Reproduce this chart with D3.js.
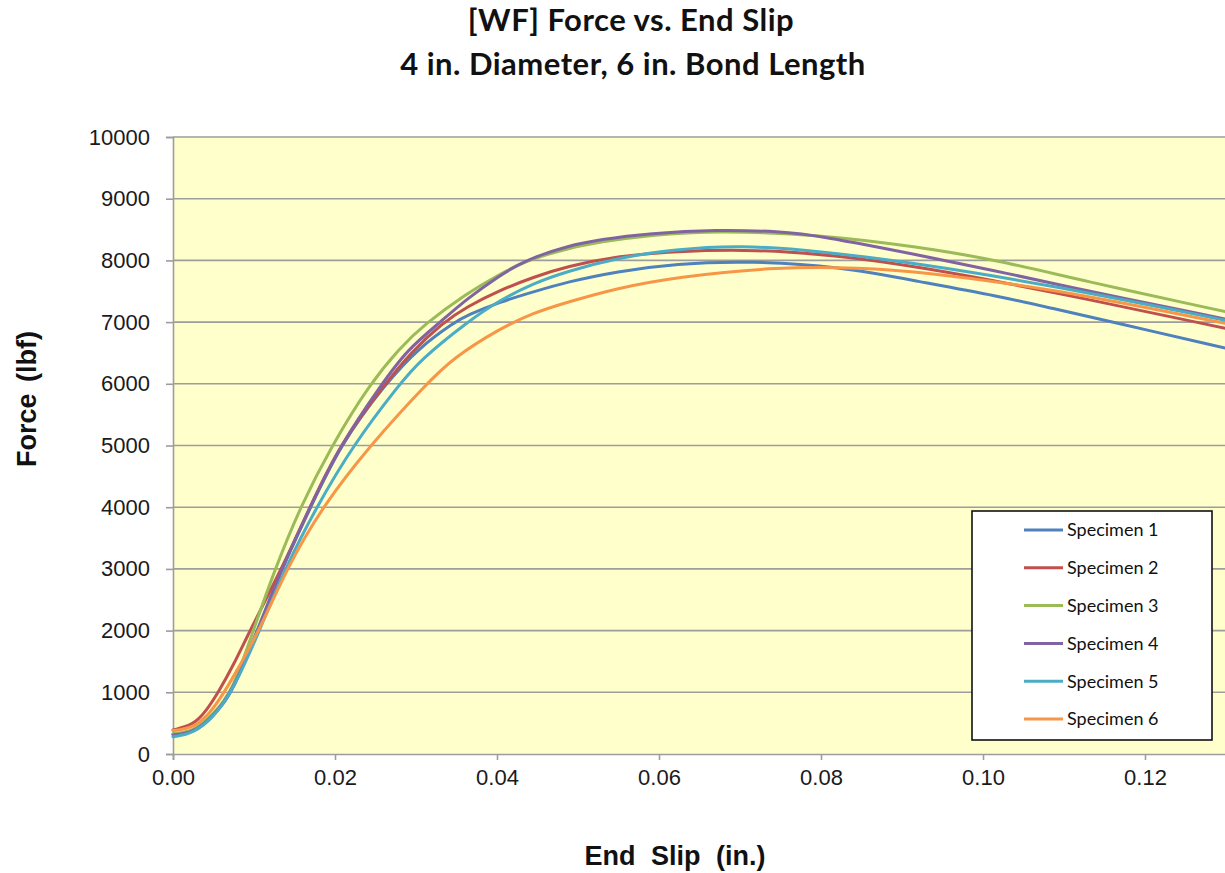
<!DOCTYPE html>
<html>
<head>
<meta charset="utf-8">
<script src="https://cdn.jsdelivr.net/npm/d3@7"></script>
<style>
  html, body { margin: 0; padding: 0; background: #ffffff; }
  svg { display: block; }
</style>
</head>
<body>
<svg id="chart" width="1225" height="873"></svg>
<script>
// Force vs. end slip readings, one [slip (in.), force (lbf)] list per specimen
const specimenNames = ["Specimen 1", "Specimen 2", "Specimen 3", "Specimen 4", "Specimen 5", "Specimen 6"];
const specimenColors = ["#4f81bd", "#c0504d", "#9bbb59", "#8064a2", "#4bacc6", "#f79646"];

const specimen1 = [[0,320],[0.002,340],[0.004,470],[0.006,780],[0.0073,1000],[0.0104,2000],[0.0134,3000],[0.017,4000],[0.0206,5000],[0.0262,6000],[0.0305,6600],[0.0348,7000],[0.0363,7110],[0.0404,7330],[0.0445,7490],[0.0486,7650],[0.0548,7820],[0.062,7950],[0.0714,7990],[0.0822,7900],[0.092,7660],[0.102,7420],[0.1083,7230],[0.116,7000],[0.1299,6580]];
const specimen2 = [[0,390],[0.0025,470],[0.004,680],[0.0056,1000],[0.0075,1450],[0.0095,2000],[0.0134,3000],[0.0169,4000],[0.0205,5000],[0.0262,6000],[0.0293,6500],[0.0334,7000],[0.0363,7250],[0.0404,7520],[0.0445,7730],[0.0486,7900],[0.0548,8070],[0.062,8150],[0.072,8180],[0.082,8080],[0.092,7900],[0.1083,7500],[0.1299,6900]];
const specimen3 = [[0,330],[0.0025,360],[0.005,650],[0.0073,1000],[0.0099,2000],[0.0126,3000],[0.0157,4000],[0.0196,5000],[0.0243,6000],[0.028,6580],[0.0309,6950],[0.0363,7470],[0.0404,7780],[0.0425,7920],[0.0445,8030],[0.0486,8190],[0.0527,8300],[0.0589,8410],[0.067,8480],[0.0798,8420],[0.092,8220],[0.102,8000],[0.112,7680],[0.1299,7170]];
const specimen4 = [[0,310],[0.0025,340],[0.005,620],[0.0073,1000],[0.0105,2000],[0.0134,3000],[0.0169,4000],[0.0206,5000],[0.0258,6000],[0.0289,6550],[0.033,7000],[0.0363,7380],[0.0404,7760],[0.0425,7920],[0.0445,8050],[0.0486,8230],[0.0527,8340],[0.0589,8440],[0.067,8500],[0.075,8470],[0.0798,8400],[0.092,8090],[0.102,7820],[0.1083,7630],[0.1299,7050]];
const specimen5 = [[0,280],[0.0025,330],[0.005,600],[0.0073,1000],[0.0107,2000],[0.0138,3000],[0.0177,4000],[0.0222,5000],[0.028,6000],[0.0305,6380],[0.0363,7000],[0.0404,7360],[0.0445,7630],[0.0486,7820],[0.0548,8040],[0.062,8180],[0.0699,8250],[0.08,8150],[0.092,7950],[0.1083,7600],[0.1299,7030]];
const specimen6 = [[0,380],[0.0025,420],[0.0045,650],[0.0064,1000],[0.0107,2000],[0.014,3000],[0.0184,4000],[0.0243,5000],[0.0313,6000],[0.0346,6420],[0.0404,6900],[0.0445,7150],[0.0486,7320],[0.0548,7550],[0.062,7730],[0.0748,7900],[0.085,7880],[0.092,7820],[0.1083,7550],[0.1299,6980]];
const specimenData = [specimen1, specimen2, specimen3, specimen4, specimen5, specimen6];

const xTicks = [0, 0.02, 0.04, 0.06, 0.08, 0.10, 0.12];
const yTicks = [0, 1000, 2000, 3000, 4000, 5000, 6000, 7000, 8000, 9000, 10000];

const svg = d3.select("#chart");
const plot = { left: 173, top: 137, bottom: 754, right: 1226 };

const x = d3.scaleLinear().domain([0, 0.13]).range([plot.left, plot.right]);
const y = d3.scaleLinear().domain([0, 10000]).range([plot.bottom, plot.top]);

// plot background
svg.append("rect")
  .attr("x", plot.left).attr("y", plot.top)
  .attr("width", plot.right - plot.left).attr("height", plot.bottom - plot.top)
  .attr("fill", "#ffffcc");

// horizontal gridlines
svg.append("g")
  .selectAll("line")
  .data(yTicks.filter(d => d > 0))
  .join("line")
  .attr("x1", plot.left).attr("x2", plot.right)
  .attr("y1", d => y(d)).attr("y2", d => y(d))
  .attr("stroke", "#9d9d9d").attr("stroke-width", 1.6);

// y axis
const yAxis = svg.append("g")
  .attr("transform", `translate(${plot.left},0)`)
  .call(d3.axisLeft(y).tickValues(yTicks).tickFormat(d3.format("d")).tickSize(7).tickPadding(16));
yAxis.select(".domain").attr("stroke", "#9d9d9d").attr("stroke-width", 1.6);
yAxis.selectAll(".tick line").attr("stroke", "#9d9d9d").attr("stroke-width", 1.6);
yAxis.selectAll(".tick text")
  .attr("font-family", "'Liberation Sans', Arial, sans-serif")
  .attr("font-size", 22).attr("fill", "#1a1a1a");

// x axis
const xAxis = svg.append("g")
  .attr("transform", `translate(0,${plot.bottom})`)
  .call(d3.axisBottom(x).tickValues(xTicks).tickFormat(d3.format(".2f")).tickSize(6).tickPadding(6));
xAxis.select(".domain").attr("stroke", "#9d9d9d").attr("stroke-width", 1.6);
xAxis.selectAll(".tick line").attr("stroke", "#9d9d9d").attr("stroke-width", 1.6);
xAxis.selectAll(".tick text")
  .attr("font-family", "'Liberation Sans', Arial, sans-serif")
  .attr("font-size", 22).attr("fill", "#1a1a1a")
  .attr("dy", "0.85em");

// specimen curves
const line = d3.line()
  .x(d => x(d[0]))
  .y(d => y(d[1]))
  .curve(d3.curveBasis);

svg.append("g")
  .selectAll("path")
  .data(specimenData)
  .join("path")
  .attr("d", line)
  .attr("fill", "none")
  .attr("stroke", (d, i) => specimenColors[i])
  .attr("stroke-width", 3)
  .attr("stroke-linejoin", "round")
  .attr("stroke-linecap", "round");

// legend
const legend = svg.append("g");
legend.append("rect")
  .attr("x", 972).attr("y", 511).attr("width", 240).attr("height", 229)
  .attr("fill", "#ffffff").attr("stroke", "#111111").attr("stroke-width", 1.6);
const legendRow = d3.scaleLinear().domain([0, 5]).range([530, 719]);
const rows = legend.selectAll("g.row")
  .data(specimenNames)
  .join("g")
  .attr("class", "row")
  .attr("transform", (d, i) => `translate(0,${legendRow(i)})`);
rows.append("line")
  .attr("x1", 1024).attr("x2", 1063).attr("y1", 0).attr("y2", 0)
  .attr("stroke", (d, i) => specimenColors[i]).attr("stroke-width", 3);
rows.append("text")
  .attr("x", 1067).attr("y", 0).attr("dy", "0.35em")
  .attr("font-family", "Lato, 'Open Sans', sans-serif")
  .attr("font-size", 18).attr("fill", "#111111")
  .text(d => d);

// titles
const titleFont = "Lato, 'Open Sans', sans-serif";
svg.append("text")
  .attr("x", 631).attr("y", 31).attr("text-anchor", "middle")
  .attr("font-family", titleFont).attr("font-weight", "bold").attr("font-size", 31)
  .attr("letter-spacing", 0.5).attr("fill", "#111111")
  .text("[WF] Force vs. End Slip");
svg.append("text")
  .attr("x", 633).attr("y", 75).attr("text-anchor", "middle")
  .attr("font-family", titleFont).attr("font-weight", "bold").attr("font-size", 31)
  .attr("letter-spacing", 0.5).attr("fill", "#111111")
  .text("4 in. Diameter, 6 in. Bond Length");

svg.append("text")
  .attr("x", 675).attr("y", 865).attr("text-anchor", "middle")
  .attr("font-family", "'Liberation Sans', Arial, sans-serif").attr("font-weight", "bold")
  .attr("font-size", 27).attr("word-spacing", 8).attr("fill", "#111111")
  .text("End Slip (in.)");

svg.append("text")
  .attr("transform", "translate(36,399) rotate(-90)")
  .attr("text-anchor", "middle")
  .attr("font-family", "'Liberation Sans', Arial, sans-serif").attr("font-weight", "bold")
  .attr("font-size", 27).attr("word-spacing", 4).attr("fill", "#111111")
  .text("Force (lbf)");
</script>
</body>
</html>
